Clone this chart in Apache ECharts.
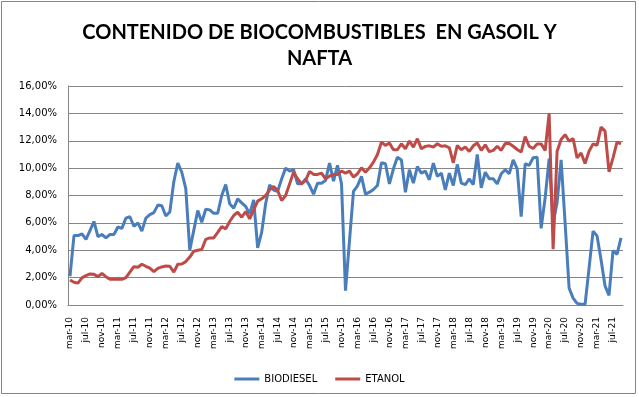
<!DOCTYPE html>
<html>
<head>
<meta charset="utf-8">
<script src="https://cdn.jsdelivr.net/npm/echarts@6/dist/echarts.min.js"></script>
<style>
  html, body { margin: 0; padding: 0; background: #fff; }
  #chart { width: 639px; height: 397px; }
</style>
</head>
<body>
<div id="chart"></div>
<script>
// meses mar-10 .. sep-21
const monthNames = ['ene', 'feb', 'mar', 'abr', 'may', 'jun', 'jul', 'ago', 'sep', 'oct', 'nov', 'dic']
const categories = []
for (let y = 10; y <= 21; y++) {
  for (let m = 0; m < 12; m++) {
    if (y === 10 && m < 2) continue
    if (y === 21 && m > 8) continue
    categories.push(monthNames[m] + '-' + y)
  }
}

// % de biodiesel en gasoil
const biodiesel = [
  2.1, 5.07, 5.07, 5.2, 4.8, 5.44, 6.1, 5.0, 5.15, 4.9,
  5.15, 5.15, 5.7, 5.6, 6.35, 6.45, 5.75, 6.0, 5.4, 6.35,
  6.6, 6.75, 7.3, 7.25, 6.5, 6.8, 9.0, 10.37, 9.7, 8.5,
  4.0, 5.45, 6.9, 6.05, 7.0, 6.95, 6.7, 6.7, 8.0, 8.8,
  7.4, 7.07, 7.75, 7.46, 7.2, 6.66, 7.68, 4.17, 5.3, 7.4,
  8.78, 8.4, 8.3, 9.2, 10.0, 9.78, 9.88, 8.85, 8.85, 9.2,
  8.73, 8.1, 8.9, 8.9, 9.1, 10.37, 9.05, 10.2, 8.85, 1.05,
  4.7, 8.3, 8.7, 9.4, 8.1, 8.24, 8.44, 8.73, 10.39, 10.32,
  8.85, 9.95, 10.8, 10.6, 8.24, 9.88, 8.9, 10.12, 9.63, 9.78,
  9.15, 10.37, 9.4, 9.63, 8.41, 9.63, 8.73, 10.27, 8.9, 8.8,
  9.22, 8.8, 11.0, 8.56, 9.7, 9.22, 9.22, 8.85, 9.59, 9.88,
  9.59, 10.6, 9.95, 6.46, 10.32, 10.2, 10.76, 10.8, 5.6, 7.83,
  10.7, 6.0, 7.5, 10.6, 6.0, 1.24, 0.5, 0.12, 0.05, 0.05,
  2.7, 5.4, 5.05, 3.3, 1.4, 0.7, 3.98, 3.7, 4.9
]

// % de etanol en nafta
const etanol = [
  1.83, 1.66, 1.6, 1.98, 2.15, 2.27, 2.24, 2.07, 2.3, 2.07,
  1.88, 1.88, 1.88, 1.88, 2.0, 2.4, 2.8, 2.76, 2.98, 2.83,
  2.7, 2.44, 2.68, 2.78, 2.85, 2.83, 2.4, 2.98, 3.0, 3.17,
  3.5, 3.93, 4.0, 4.05, 4.8, 4.9, 4.9, 5.3, 5.73, 5.56,
  6.1, 6.54, 6.78, 6.41, 6.83, 6.3, 6.95, 7.59, 7.76, 8.0,
  8.41, 8.66, 8.37, 7.63, 8.0, 8.85, 9.7, 9.22, 8.85, 9.1,
  9.76, 9.54, 9.54, 9.63, 9.22, 9.41, 9.54, 9.54, 9.78, 9.63,
  9.78, 9.34, 9.59, 10.02, 9.7, 10.02, 10.44, 11.0, 11.9, 11.66,
  11.83, 11.34, 11.34, 11.78, 11.41, 11.98, 11.54, 12.15, 11.41, 11.59,
  11.63, 11.54, 11.78, 11.59, 11.63, 11.49, 10.39, 11.66, 11.34, 11.54,
  11.22, 11.63, 11.83, 11.3, 11.7, 11.2, 11.3, 11.6, 11.3, 11.8,
  11.8, 11.6, 11.36, 11.17, 12.3, 11.6, 11.43, 11.77, 11.77, 11.29,
  14.0, 4.08, 11.24, 12.09, 12.45, 11.97, 12.16, 10.75, 11.1, 10.34,
  11.24, 11.77, 11.67, 13.0, 12.7, 9.73, 10.75, 11.9, 11.77
]

const chart = echarts.init(document.getElementById('chart'))

const option = {
  animation: false,
  backgroundColor: '#fff',
  title: {
    text: 'CONTENIDO DE BIOCOMBUSTIBLES  EN GASOIL Y\nNAFTA',
    left: 'center',
    top: 15,
    textStyle: {
      fontFamily: 'Lato',
      fontWeight: 'bold',
      fontSize: 20,
      lineHeight: 26,
      color: '#000'
    }
  },
  legend: {
    top: 369,
    left: 'center',
    icon: 'rect',
    itemWidth: 25,
    itemHeight: 3,
    itemGap: 18,
    textStyle: { fontFamily: 'DejaVu Sans', fontSize: 10, color: '#000' },
    data: ['BIODIESEL', 'ETANOL']
  },
  grid: {
    left: 68,
    right: 16,
    top: 86,
    bottom: 92
  },
  xAxis: {
    type: 'category',
    data: categories,
    boundaryGap: true,
    axisLine: { lineStyle: { color: '#868686' } },
    axisTick: { show: false },
    axisLabel: {
      interval: 3,
      rotate: 90,
      margin: 12,
      fontFamily: 'DejaVu Sans',
      fontSize: 9,
      color: '#000'
    }
  },
  yAxis: {
    type: 'value',
    min: 0,
    max: 16,
    interval: 2,
    axisLine: { show: true, lineStyle: { color: '#868686' } },
    axisTick: { show: false },
    splitLine: { lineStyle: { color: '#868686', width: 1 } },
    axisLabel: {
      margin: 11,
      fontFamily: 'DejaVu Sans',
      fontSize: 10,
      color: '#000',
      formatter: v => v.toFixed(2).replace('.', ',') + '%'
    }
  },
  series: [
    {
      name: 'BIODIESEL',
      type: 'line',
      data: biodiesel,
      showSymbol: false,
      symbol: 'none',
      lineStyle: { color: '#4A7EBB', width: 3 },
      itemStyle: { color: '#4A7EBB' }
    },
    {
      name: 'ETANOL',
      type: 'line',
      data: etanol,
      showSymbol: false,
      symbol: 'none',
      lineStyle: { color: '#BE4B48', width: 3 },
      itemStyle: { color: '#BE4B48' }
    }
  ],
  graphic: [{
    type: 'rect',
    shape: { x: 1.5, y: 1.5, width: 634, height: 392 },
    style: { fill: 'none', stroke: '#868686', lineWidth: 1 },
    silent: true
  }]
}

chart.setOption(option)
</script>
</body>
</html>
